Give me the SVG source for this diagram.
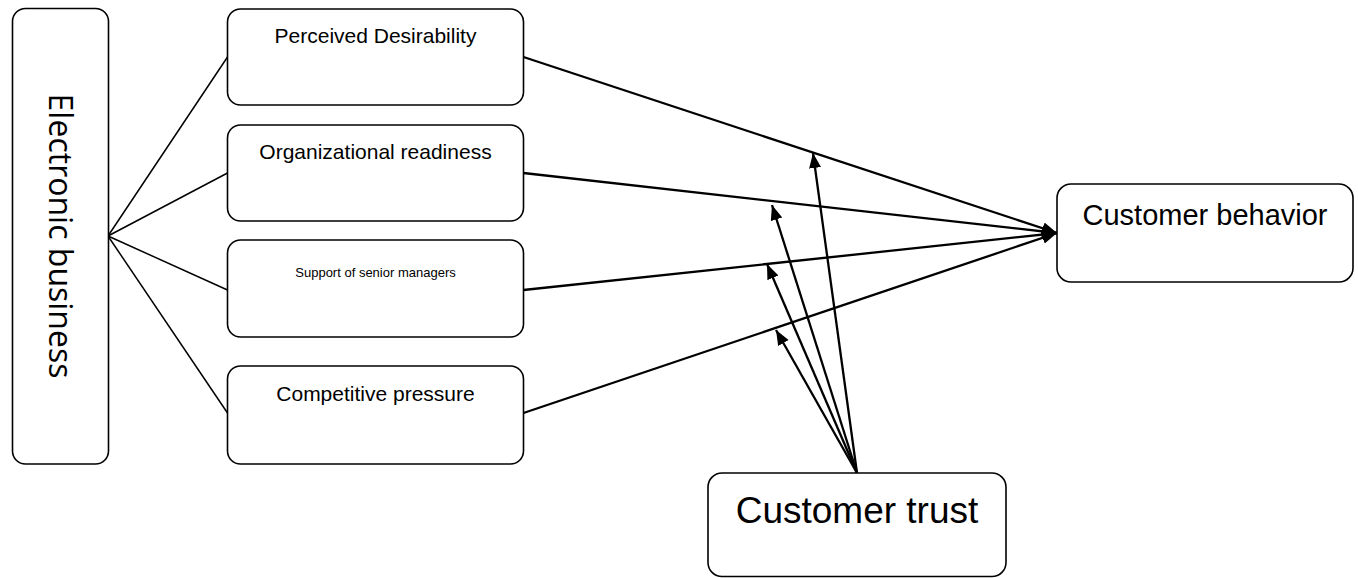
<svg xmlns="http://www.w3.org/2000/svg" width="1358" height="578" viewBox="0 0 1358 578">
<style>
.box{fill:#fff;stroke:#000;stroke-width:1.6}
.t{font-family:"Liberation Sans",Arial,sans-serif;fill:#000;text-anchor:middle}
.fan{stroke:#000;stroke-width:1.5;fill:none}
.arr{stroke:#000;stroke-width:2.3;fill:none;marker-end:url(#ah)}
</style>
<defs>
<marker id="ah" markerUnits="userSpaceOnUse" markerWidth="17" markerHeight="13" refX="15" refY="6" orient="auto">
<path d="M0,0 L15,6 L0,12 z" fill="#000"/>
</marker>
</defs>
<rect width="1358" height="578" fill="#fff"/>
<g id="connectors">
<line class="fan" x1="108" y1="236" x2="227.5" y2="57"/>
<line class="fan" x1="108" y1="236" x2="227.5" y2="173"/>
<line class="fan" x1="108" y1="236" x2="227.5" y2="290"/>
<line class="fan" x1="108" y1="236" x2="227.5" y2="413"/>
<line class="arr" x1="523.5" y1="57" x2="1057" y2="233"/>
<line class="arr" x1="523.5" y1="173" x2="1057" y2="233"/>
<line class="arr" x1="523.5" y1="290" x2="1057" y2="233"/>
<line class="arr" x1="523.5" y1="413" x2="1057" y2="233"/>
<line class="arr" x1="857" y1="473" x2="813" y2="153"/>
<line class="arr" x1="857" y1="473" x2="772" y2="205"/>
<line class="arr" x1="857" y1="473" x2="767" y2="264"/>
<line class="arr" x1="857" y1="473" x2="776" y2="330"/>
</g>
<g id="electronic-business">
<rect class="box" x="12.5" y="8.5" width="96" height="455.5" rx="13"/>
<text font-family="'Open Sans',sans-serif" font-size="32" text-anchor="middle" transform="translate(49,236) rotate(90)">Electronic business</text>
</g>
<g id="perceived-desirability">
<rect class="box" x="227.5" y="9" width="296" height="96" rx="13"/>
<text class="t" x="375.5" y="43" font-size="21">Perceived Desirability</text>
</g>
<g id="organizational-readiness">
<rect class="box" x="227.5" y="125" width="296" height="96" rx="13"/>
<text class="t" x="375.5" y="159" font-size="21">Organizational readiness</text>
</g>
<g id="support-senior-managers">
<rect class="box" x="227.5" y="240" width="296" height="97" rx="13"/>
<text class="t" x="375.5" y="277" font-size="13">Support of senior managers</text>
</g>
<g id="competitive-pressure">
<rect class="box" x="227.5" y="366" width="296" height="98" rx="13"/>
<text class="t" x="375.5" y="401" font-size="21">Competitive pressure</text>
</g>
<g id="customer-behavior">
<rect class="box" x="1057" y="184" width="296" height="98" rx="14"/>
<text class="t" x="1205" y="225" font-size="29">Customer behavior</text>
</g>
<g id="customer-trust">
<rect class="box" x="708" y="473" width="298" height="103.5" rx="14"/>
<text class="t" x="857" y="523" font-size="37">Customer trust</text>
</g>
</svg>
